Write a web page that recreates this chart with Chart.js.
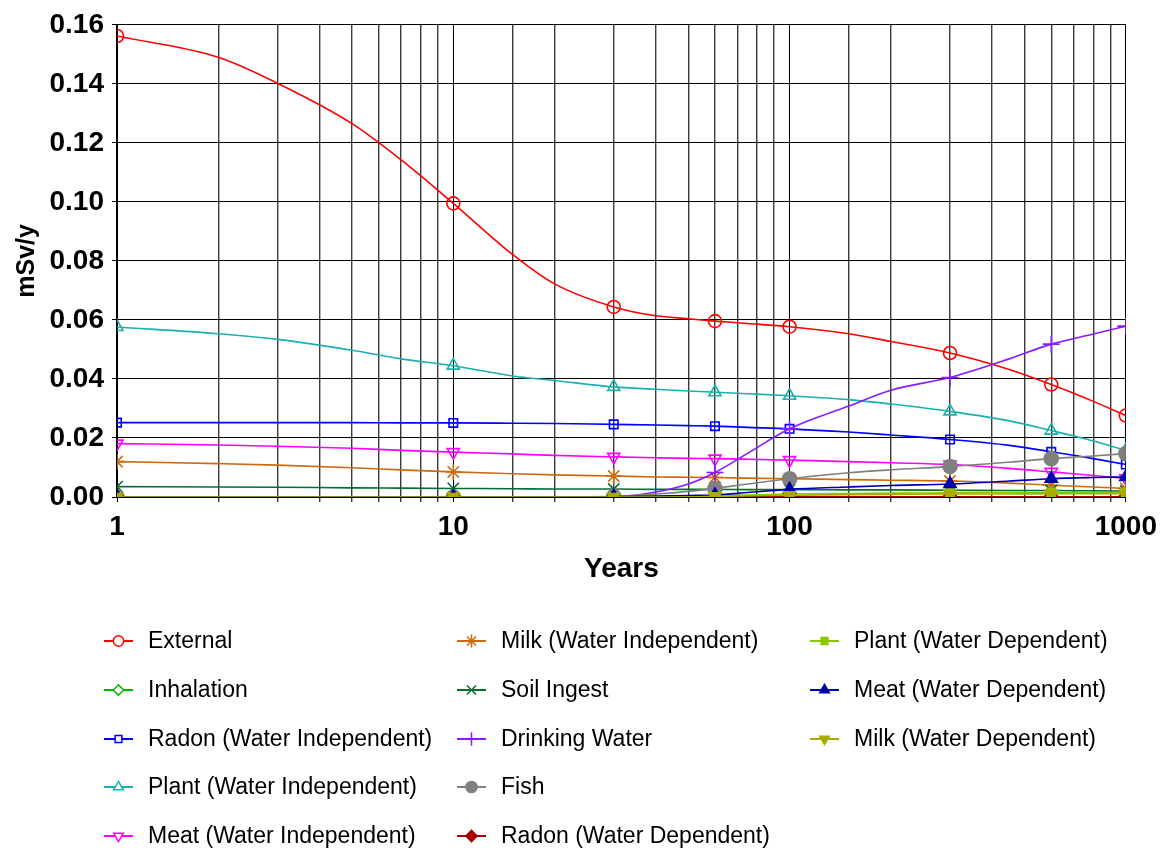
<!DOCTYPE html>
<html><head><meta charset="utf-8">
<script src="https://cdn.jsdelivr.net/npm/chart.js@4.4.0/dist/chart.umd.min.js"></script>
<style>html,body{margin:0;padding:0;background:#fff;} #wrap{width:1165px;height:850px;}</style>
</head><body><div id="wrap"><canvas id="c" width="1165" height="850"></canvas></div>
<script>
// ---- data ----
const years = [1, 2, 3, 5, 7, 10, 15, 20, 30, 40, 50, 60, 75, 100, 150, 200, 300, 450, 600, 800, 1000];
const markerYears = [1, 10, 30, 60, 100, 300, 600, 1000];
const yTicks = [0, 0.02, 0.04, 0.06, 0.08, 0.10, 0.12, 0.14, 0.16];
const xTickLabels = [1, 10, 100, 1000];
const seriesNames = ['External', 'Inhalation', 'Radon (Water Independent)', 'Plant (Water Independent)',
  'Meat (Water Independent)', 'Milk (Water Independent)', 'Soil Ingest', 'Drinking Water', 'Fish',
  'Radon (Water Dependent)', 'Plant (Water Dependent)', 'Meat (Water Dependent)', 'Milk (Water Dependent)'];

const external   = [0.1562,0.1490,0.1402,0.1265,0.1142,0.0995,0.0822,0.0722,0.0644,0.0614,0.0604,0.0596,0.0588,0.0577,0.0553,0.0527,0.0488,0.0432,0.0381,0.0324,0.0276];
const inhalation = [0.0001,0.0001,0.0001,0.0001,0.0001,0.0001,0.0001,0.0001,0.0001,0.0001,0.0001,0.0001,0.0001,0.0001,0.0001,0.0001,0.0001,0.0001,0.0001,0.0001,0.0001];
const radonWI    = [0.0252,0.0252,0.0252,0.0252,0.0251,0.0251,0.0250,0.0249,0.0246,0.0244,0.0242,0.0240,0.0236,0.0231,0.0220,0.0210,0.0195,0.0175,0.0153,0.0130,0.0110];
const plantWI    = [0.0576,0.0553,0.0534,0.0497,0.0468,0.0445,0.0410,0.0395,0.0373,0.0365,0.0359,0.0355,0.0350,0.0343,0.0330,0.0315,0.0290,0.0258,0.0225,0.0190,0.0158];
const meatWI     = [0.0181,0.0176,0.0172,0.0165,0.0158,0.0152,0.0146,0.0141,0.0136,0.0133,0.0131,0.0130,0.0128,0.0125,0.0120,0.0116,0.0110,0.0097,0.0085,0.0073,0.0063];
const milkWI     = [0.0120,0.0113,0.0108,0.0099,0.0092,0.0085,0.0079,0.0075,0.0071,0.0068,0.0067,0.0066,0.0064,0.0062,0.0059,0.0057,0.0054,0.0047,0.0040,0.0034,0.0029];
const soilIngest = [0.0035,0.0034,0.0033,0.0031,0.0030,0.0029,0.0028,0.0027,0.0027,0.0026,0.0026,0.0026,0.0025,0.0025,0.0024,0.0024,0.0023,0.0022,0.0022,0.0021,0.0020];
const drinking   = [0,0,0,0,0,0,0,0,0.0001,0.0017,0.0044,0.0083,0.0148,0.0231,0.0308,0.0362,0.0405,0.0468,0.0518,0.0552,0.0579];
const fish       = [0,0,0,0,0,0,0,0,0.0002,0.0010,0.0019,0.0029,0.0044,0.0062,0.0082,0.0092,0.0103,0.0118,0.0130,0.0139,0.0147];
const radonWD    = [0,0,0,0,0,0,0,0,0,0,0,0,0,0.0001,0.0001,0.0001,0.0001,0.0001,0.0001,0.0001,0.0001];
const plantWD    = [0,0,0,0,0,0,0,0,0,0.0001,0.0002,0.0004,0.0007,0.0010,0.0012,0.0013,0.0014,0.0015,0.0015,0.0015,0.0015];
const meatWD     = [0,0,0,0,0,0,0,0,0.0001,0.0003,0.0005,0.0007,0.0015,0.0026,0.0034,0.0039,0.0044,0.0054,0.0062,0.0066,0.0068];
const milkWD     = [0,0,0,0,0,0,0,0,0,0,0,0.0002,0.0004,0.0006,0.0008,0.0009,0.0010,0.0010,0.0011,0.0011,0.0011];

const seriesValues = [external, inhalation, radonWI, plantWI, meatWI, milkWI, soilIngest, drinking, fish, radonWD, plantWD, meatWD, milkWD];

// ---- styles ----
const styles = [
  {c:'#FF0000', s:'circle',   r:6.5, rot:0,   fill:false},
  {c:'#00B400', s:'rectRot',  r:6.5, rot:0,   fill:false},
  {c:'#0000FF', s:'rect',     r:6,   rot:0,   fill:false},
  {c:'#1AB0B0', s:'triangle', r:7,   rot:0,   fill:false},
  {c:'#FF00FF', s:'triangle', r:7,   rot:180, fill:false},
  {c:'#CC6A10', s:'star',     r:8,   rot:0,   fill:false},
  {c:'#007030', s:'crossRot', r:8,   rot:0,   fill:false},
  {c:'#8A1AFF', s:'cross',    r:8.5, rot:0,   fill:false},
  {c:'#808080', s:'circle',   r:7,   rot:0,   fill:true},
  {c:'#A80000', s:'rectRot',  r:7,   rot:0,   fill:true},
  {c:'#88C800', s:'rect',     r:6,   rot:0,   fill:true},
  {c:'#0000AA', s:'triangle', r:7,   rot:0,   fill:true},
  {c:'#AAAA00', s:'triangle', r:7,   rot:180, fill:true}
];

const FONT = '"Liberation Sans", Arial, sans-serif';

const datasets = seriesNames.map((name, i) => {
  const st = styles[i];
  return {
    label: name,
    data: years.map((t, k) => ({x: t, y: seriesValues[i][k]})),
    borderColor: st.c,
    backgroundColor: st.c,
    borderWidth: 1.6,
    pointStyle: st.s,
    pointRotation: st.rot,
    pointBorderColor: st.c,
    pointBackgroundColor: st.fill ? st.c : 'rgba(0,0,0,0)',
    pointBorderWidth: 1.6,
    pointRadius: (ctx) => markerYears.includes(years[ctx.dataIndex]) ? st.r : 0,
    pointHoverRadius: 0,
    cubicInterpolationMode: 'monotone',
    clip: 0,
    order: -i
  };
});

const legendPlugin = {
  id: 'columnLegend',
  afterDraw(chart) {
    const ctx = chart.ctx;
    const colX = [104, 457, 810];
    const rowY = [641, 690, 739, 787, 836];
    ctx.save();
    chart.data.datasets.forEach((ds, i) => {
      const st = styles[i];
      const x0 = colX[Math.floor(i / 5)];
      const y = rowY[i % 5];
      ctx.strokeStyle = st.c;
      ctx.lineWidth = 2;
      ctx.beginPath();
      ctx.moveTo(x0, y);
      ctx.lineTo(x0 + 29, y);
      ctx.stroke();
      ctx.fillStyle = st.fill ? st.c : '#ffffff';
      ctx.strokeStyle = st.c;
      ctx.lineWidth = 1.5;
      Chart.helpers.drawPoint(ctx, {pointStyle: st.s, radius: st.r * 0.8, rotation: st.rot, borderWidth: 1.5}, x0 + 14.5, y);
      ctx.fillStyle = '#000';
      ctx.font = '23px ' + FONT;
      ctx.textBaseline = 'middle';
      ctx.textAlign = 'left';
      ctx.fillText(ds.label, x0 + 44, y + 1);
    });
    ctx.restore();
  }
};

new Chart(document.getElementById('c'), {
  type: 'line',
  data: {datasets},
  options: {
    responsive: false,
    animation: false,
    events: [],
    layout: {padding: {left: 0, right: 38, top: 22, bottom: 253}},
    plugins: {legend: {display: false}, tooltip: {enabled: false}},
    scales: {
      x: {
        type: 'logarithmic',
        min: 1, max: 1000,
        afterFit: (s) => { s.height = 100; },
        grid: {
          color: (c) => (c.tick && xTickLabels.includes(c.tick.value)) ? '#000' : '#3a3a3a',
          lineWidth: (c) => (c.tick && xTickLabels.includes(c.tick.value)) ? 1 : 1.4,
          tickLength: 5, drawTicks: true
        },
        border: {display: true, color: '#000', width: 1},
        ticks: {
          autoSkip: false, maxRotation: 0, padding: 8, color: '#000',
          font: {family: FONT, size: 28, weight: 'bold'},
          callback: (v) => xTickLabels.includes(v) ? String(v) : ''
        },
        title: {display: true, text: 'Years', color: '#000', font: {family: FONT, size: 28, weight: 'bold'}, padding: {top: 11, bottom: 11}}
      },
      y: {
        min: 0, max: 0.16,
        afterFit: (s) => { s.width = 117; },
        afterBuildTicks: (s) => { s.ticks = yTicks.map(v => ({value: v})); },
        grid: {color: '#000', lineWidth: 1, tickLength: 5},
        border: {display: true, color: '#000', width: 2},
        ticks: {
          padding: 8, color: '#000',
          font: {family: FONT, size: 28, weight: 'bold'},
          callback: (v) => Number(v).toFixed(2)
        },
        title: {display: true, text: 'mSv/y', color: '#000', font: {family: FONT, size: 25, weight: 'bold'}, padding: {top: 12, bottom: 12}}
      }
    }
  },
  plugins: [legendPlugin]
});
</script>
</body></html>
